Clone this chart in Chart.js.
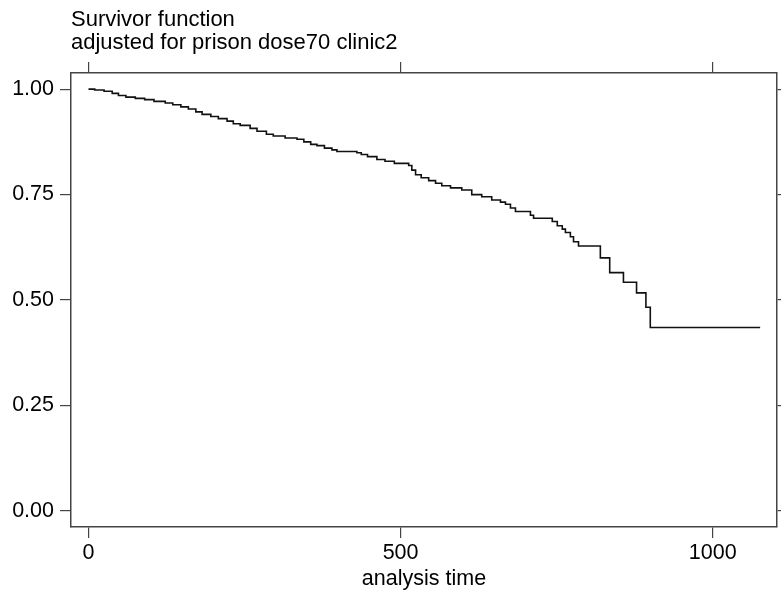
<!DOCTYPE html>
<html lang="en">

<head>
    <meta charset="UTF-8">
    <title>Survivor function</title>
    <script src="https://cdn.jsdelivr.net/npm/chart.js@4.4.1/dist/chart.umd.min.js"></script>
    <style>
        html, body { margin: 0; padding: 0; background: #fff; }
        #wrap { width: 781px; height: 592px; }
    </style>
</head>

<body>
    <div id="wrap"><canvas id="chart"></canvas></div>
    <script>
        // analysis time at each drop, and survivor value from that time on
        const times = [0, 10, 25, 38, 48, 60, 75, 90, 105, 123, 135, 148, 160, 172, 182, 196, 208, 222, 232, 243,
            259, 270, 285, 296, 315, 334, 345, 356, 366, 378, 390, 398, 430, 437, 447, 462, 475, 490, 513, 518,
            524, 533, 545, 556, 566, 580, 598, 614, 630, 646, 660, 668, 676, 684, 708, 713, 743, 751, 759, 764,
            772, 777, 785, 820, 835, 857, 878, 893, 900, 1076];
        const survival = [1.000, 0.998, 0.995, 0.990, 0.985, 0.981, 0.978, 0.975, 0.971, 0.967, 0.963, 0.958, 0.953, 0.946, 0.940, 0.935, 0.930, 0.924, 0.918, 0.914,
            0.907, 0.900, 0.893, 0.889, 0.884, 0.881, 0.875, 0.869, 0.866, 0.860, 0.856, 0.852, 0.849, 0.845, 0.840, 0.833, 0.829, 0.824, 0.819, 0.808,
            0.797, 0.790, 0.783, 0.777, 0.771, 0.766, 0.761, 0.750, 0.745, 0.737, 0.732, 0.727, 0.718, 0.710, 0.701, 0.694, 0.686, 0.676, 0.668, 0.660,
            0.650, 0.638, 0.628, 0.600, 0.565, 0.542, 0.517, 0.483, 0.435, 0.435];
        const xTicks = [0, 500, 1000];
        const yTicks = [0, 0.25, 0.5, 0.75, 1];
        const titleLines = ['Survivor function', 'adjusted for prison dose70 clinic2'];

        const family = '"Liberation Sans", Arial, Helvetica, sans-serif',
            font = { family, size: 21.5 },
            ink = '#000',
            frame = '#444',
            setTicks = list => scale => { scale.ticks = list.map(v => ({ value: v })); },
            edge = (pos, size) => ({
                type: 'linear',
                position: pos,
                min: pos == 'top' ? -28 : -0.038,
                max: pos == 'top' ? 1103 : 1.038,
                afterBuildTicks: setTicks(pos == 'top' ? xTicks : yTicks),
                afterFit(scale) {
                    if (pos == 'top') scale.height = size;
                    else scale.width = size;
                },
                border: { display: true, color: frame, width: 1.5 },
                grid: { drawOnChartArea: false, drawTicks: true, tickLength: 11, color: frame, lineWidth: 1.2 },
                ticks: { display: false }
            });

        new Chart(document.getElementById('chart'), {
            type: 'line',
            data: {
                datasets: [{
                    data: times.map((t, i) => ({ x: t, y: survival[i] })),
                    stepped: true,
                    borderColor: '#111',
                    borderWidth: 1.6,
                    pointRadius: 0,
                    fill: false
                }]
            },
            options: {
                responsive: true,
                maintainAspectRatio: false,
                animation: false,
                layout: { padding: 0 },
                plugins: {
                    legend: { display: false },
                    tooltip: { enabled: false },
                    title: {
                        display: true,
                        text: titleLines,
                        align: 'start',
                        fullSize: false,
                        color: ink,
                        font: { family, size: 22, weight: 'normal', lineHeight: 1.07 },
                        padding: { top: 8, bottom: 7 }
                    }
                },
                scales: {
                    x: {
                        type: 'linear',
                        position: 'bottom',
                        min: -28,
                        max: 1103,
                        afterBuildTicks: setTicks(xTicks),
                        afterFit(scale) { scale.height = 65; },
                        border: { display: true, color: frame, width: 1.5 },
                        grid: { drawOnChartArea: false, drawTicks: true, tickLength: 11, color: frame, lineWidth: 1.2 },
                        ticks: { color: ink, font, padding: 2, maxRotation: 0, autoSkip: false, callback: v => String(v) },
                        title: { display: true, text: 'analysis time', color: ink, font, padding: { top: 0, bottom: 0 } }
                    },
                    y: {
                        type: 'linear',
                        position: 'left',
                        min: -0.038,
                        max: 1.038,
                        afterBuildTicks: setTicks(yTicks),
                        afterFit(scale) { scale.width = 71; },
                        border: { display: true, color: frame, width: 1.5 },
                        grid: { drawOnChartArea: false, drawTicks: true, tickLength: 11, color: frame, lineWidth: 1.2 },
                        ticks: {
                            color: ink,
                            font,
                            padding: 6,
                            callback: v => v.toFixed(2)
                        }
                    },
                    x2: edge('top', 11),
                    y2: edge('right', 4)
                }
            }
        });
    </script>
</body>

</html>
